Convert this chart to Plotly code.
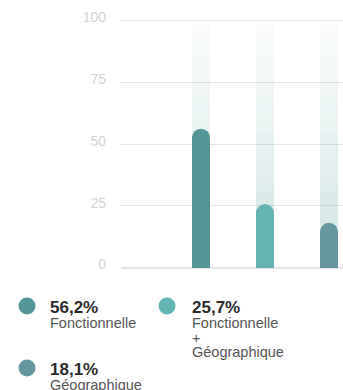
import plotly.graph_objects as go

# ---- data ----
categories = [0, 1, 2]
values = [56.2, 25.7, 18.1]
pct_labels = ["56,2%", "25,7%", "18,1%"]
names = ["Fonctionnelle", "Fonctionnelle<br>+<br>Géographique", "Géographique"]
colors = ["rgb(84,150,152)", "rgb(99,180,179)", "rgb(102,150,160)"]
tick_vals = [0, 25, 50, 75, 100]
bg_max = 98

W, H = 343, 390
ML, MR, MT, MB = 121, 0, 18, 120
PW, PH = W - ML - MR, H - MT - MB
Y_RANGE = [-1, 101]
BAR_W = 0.28
CAP_PX = 9  # radius of the rounded top, in pixels

def px_x(px):
    return (px - ML) / PW

def px_y(py):
    return (H - MB - py) / PH

units_per_px = (Y_RANGE[1] - Y_RANGE[0]) / PH
cap_r = CAP_PX * units_per_px

fig = go.Figure()

# background gradient bars (stacked segments, fading towards the top)
n_seg = 25
seg = bg_max / n_seg
for k in range(n_seg):
    frac = k / (n_seg - 1)
    alpha = 0.22 * (1 - frac) + 0.035
    fig.add_trace(go.Bar(
        x=categories, y=[seg] * 3, base=[k * seg] * 3,
        width=BAR_W, marker=dict(color=f"rgba(84,150,152,{alpha:.3f})", line=dict(width=0)),
        hoverinfo="skip", showlegend=False,
    ))

# foreground bars: body + rounded cap
fig.add_trace(go.Bar(
    x=categories, y=[v - cap_r for v in values], width=BAR_W,
    marker=dict(color=colors, line=dict(width=0)),
    hoverinfo="skip", showlegend=False,
))
fig.add_trace(go.Scatter(
    x=categories, y=[v - cap_r for v in values], mode="markers",
    marker=dict(size=2 * CAP_PX, color=colors, line=dict(width=0)),
    hoverinfo="skip", showlegend=False, cliponaxis=False,
))

fig.update_layout(
    width=W, height=H,
    margin=dict(l=ML, r=MR, t=MT, b=MB, pad=0),
    paper_bgcolor="white", plot_bgcolor="white",
    barmode="overlay", bargap=0,
    font=dict(family="Liberation Sans, Arial, sans-serif"),
    xaxis=dict(range=[-1.25, 2.22], visible=False, fixedrange=True),
    yaxis=dict(range=Y_RANGE, tickvals=tick_vals, showgrid=True,
               gridcolor="#e6e6e6", gridwidth=1, zeroline=True,
               zerolinecolor="#e6e6e6", zerolinewidth=1.5,
               tickfont=dict(size=14, color="#d4d4d4"),
               ticklabelstandoff=14, ticklabelshift=-3,
               showline=False, ticks="", fixedrange=True),
)

# legend: circles + texts
legend_pos = [(27, 306, 48), (167, 306, 190), (27, 368, 48)]
r = 8.5
for i, (cx, cy, tx) in enumerate(legend_pos):
    fig.add_shape(type="circle", xref="paper", yref="paper",
                  x0=px_x(cx - r), x1=px_x(cx + r), y0=px_y(cy + r), y1=px_y(cy - r),
                  fillcolor=colors[i], line=dict(width=0), layer="above")
    fig.add_annotation(xref="paper", yref="paper", x=px_x(tx), y=px_y(cy + 1),
                       text=f"<b>{pct_labels[i]}</b>", showarrow=False,
                       xanchor="left", yanchor="middle",
                       font=dict(size=17, color="#2b2b2b"))
    lines = names[i].split("<br>")
    for j, ln in enumerate(lines):
        fig.add_annotation(xref="paper", yref="paper", x=px_x(tx), y=px_y(cy + 17 + j * 14.5),
                           text=ln, showarrow=False, xanchor="left", yanchor="middle",
                           font=dict(size=14.5, color="#555555"))

fig.write_html("out.html", config={"displayModeBar": False})
